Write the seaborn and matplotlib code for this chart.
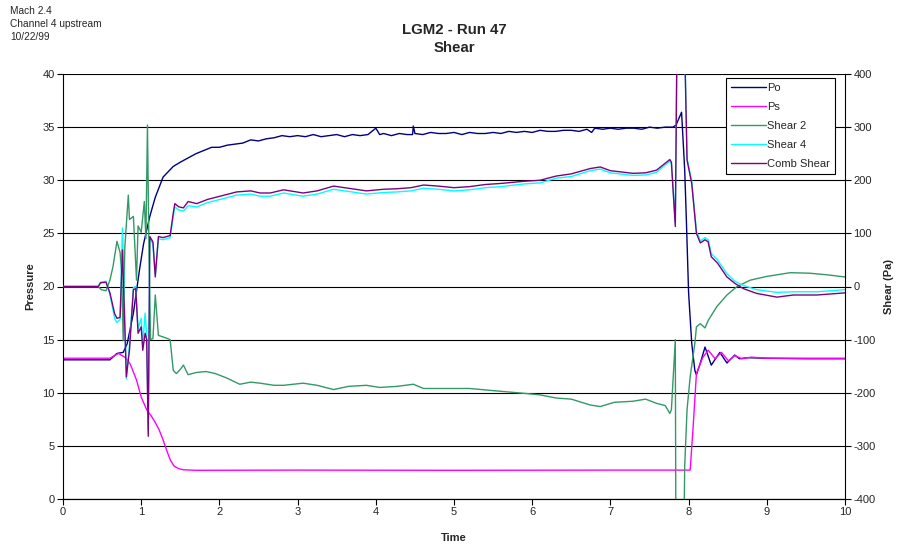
import matplotlib
matplotlib.use("Agg")
import matplotlib.pyplot as plt
import seaborn as sns

# ---- data ----
# pressure (left axis)
t_po = [
    0, 0.30, 0.60, 0.69, 0.77, 0.82, 0.90, 0.94, 0.985, 1.03,
    1.11, 1.18, 1.28, 1.41, 1.50, 1.60, 1.70, 1.80, 1.90, 2.00,
    2.10, 2.20, 2.30, 2.40, 2.50, 2.60, 2.70, 2.80, 2.90, 3.00,
    3.10, 3.20, 3.30, 3.40, 3.50, 3.60, 3.70, 3.80, 3.90, 4.00,
    4.05, 4.10, 4.20, 4.30, 4.40, 4.47, 4.48, 4.50, 4.60, 4.70,
    4.80, 4.90, 5.00, 5.10, 5.20, 5.30, 5.40, 5.50, 5.60, 5.70,
    5.80, 5.90, 6.00, 6.10, 6.20, 6.30, 6.40, 6.50, 6.60, 6.70,
    6.76, 6.80, 6.90, 7.00, 7.10, 7.20, 7.30, 7.40, 7.50, 7.60,
    7.70, 7.80, 7.84, 7.91, 7.95, 7.97, 8.00, 8.04, 8.08, 8.10,
    8.15, 8.21, 8.29, 8.40, 8.49, 8.59, 8.65, 8.75, 9.00, 9.50,
    10.0]
po = [
    13.1, 13.1, 13.1, 13.7, 13.8, 14.6, 17.5, 19.6, 21.9, 24.0,
    26.6, 28.4, 30.3, 31.3, 31.7, 32.1, 32.5, 32.8, 33.1, 33.1,
    33.3, 33.4, 33.5, 33.8, 33.7, 33.9, 34.0, 34.2, 34.1, 34.2,
    34.1, 34.3, 34.1, 34.2, 34.3, 34.1, 34.3, 34.2, 34.3, 34.9,
    34.3, 34.4, 34.2, 34.4, 34.3, 34.3, 35.1, 34.4, 34.3, 34.5,
    34.4, 34.4, 34.5, 34.3, 34.5, 34.4, 34.4, 34.5, 34.4, 34.6,
    34.5, 34.6, 34.5, 34.7, 34.6, 34.6, 34.7, 34.7, 34.6, 34.8,
    34.5, 34.9, 34.8, 34.9, 34.8, 34.9, 34.9, 34.8, 35.0, 34.9,
    35.0, 35.0, 35.2, 36.4, 31.0, 26.6, 19.4, 14.65, 12.1, 11.7,
    12.8, 14.3, 12.6, 13.8, 12.8, 13.55, 13.2, 13.3, 13.25, 13.2,
    13.2]

t_ps = [
    0, 0.60, 0.71, 0.80, 0.86, 0.94, 1.00, 1.07, 1.13, 1.18,
    1.23, 1.28, 1.33, 1.37, 1.42, 1.48, 1.54, 1.70, 3.0, 5.0,
    7.0, 8.02, 8.06, 8.10, 8.18, 8.25, 8.34, 8.42, 8.51, 8.59,
    8.68, 8.80, 9.0, 10.0]
ps = [
    13.25, 13.25, 13.7, 13.3, 12.7, 11.2, 9.6, 8.4, 7.8, 7.2,
    6.5, 5.55, 4.5, 3.7, 3.1, 2.85, 2.75, 2.7, 2.72, 2.7,
    2.72, 2.72, 7.0, 11.8, 13.3, 14.0, 13.2, 13.8, 13.0, 13.5,
    13.2, 13.35, 13.25, 13.25]

# shear (right axis, Pa)
t_sh2 = [
    0, 0.45, 0.49, 0.55, 0.60, 0.64, 0.69, 0.73, 0.75, 0.77,
    0.79, 0.835, 0.85, 0.90, 0.94, 0.96, 1.00, 1.04, 1.06, 1.08,
    1.10, 1.12, 1.15, 1.18, 1.22, 1.30, 1.37, 1.41, 1.45, 1.50,
    1.54, 1.60, 1.70, 1.83, 1.95, 2.09, 2.26, 2.40, 2.52, 2.70,
    2.82, 3.07, 3.25, 3.46, 3.65, 3.88, 4.05, 4.27, 4.48, 4.61,
    4.85, 5.20, 5.50, 5.89, 6.10, 6.31, 6.50, 6.74, 6.87, 7.05,
    7.29, 7.45, 7.59, 7.70, 7.76, 7.78, 7.83, 7.84, 7.93, 7.95,
    7.98, 8.02, 8.08, 8.10, 8.15, 8.21, 8.25, 8.36, 8.49, 8.62,
    8.79, 9.00, 9.30, 9.55, 9.77, 10.0]
shear2 = [
    0, 0, -6, -8, 12, 38, 85, 64, 26, -102,
    72, 172, 126, 132, 12, 114, 102, 160, 90, 304,
    60, -100, -98, -16, -92, -96, -100, -158, -164, -156,
    -148, -166, -162, -160, -164, -172, -184, -180, -182, -186,
    -186, -182, -186, -194, -188, -186, -190, -188, -184, -192,
    -192, -192, -196, -201, -204, -210, -212, -223, -226, -218,
    -216, -212, -220, -224, -239, -232, -100, -600, -600, -339,
    -232, -170, -107, -76, -70, -78, -64, -38, -16, 0,
    12, 19, 26, 25, 22, 18]

t_comb = [
    0, 0.45, 0.48, 0.55, 0.60, 0.66, 0.69, 0.73, 0.76, 0.81,
    0.85, 0.90, 0.93, 0.96, 1.00, 1.02, 1.05, 1.07, 1.09, 1.11,
    1.15, 1.18, 1.22, 1.28, 1.37, 1.41, 1.43, 1.48, 1.54, 1.60,
    1.71, 1.85, 2.01, 2.22, 2.40, 2.52, 2.65, 2.82, 3.07, 3.25,
    3.46, 3.60, 3.88, 4.10, 4.27, 4.45, 4.61, 4.80, 5.00, 5.20,
    5.40, 5.60, 5.89, 6.10, 6.31, 6.50, 6.74, 6.87, 7.00, 7.29,
    7.45, 7.59, 7.76, 7.78, 7.83, 7.86, 7.93, 7.98, 8.04, 8.10,
    8.15, 8.21, 8.25, 8.29, 8.37, 8.49, 8.59, 8.70, 8.87, 9.13,
    9.34, 9.64, 10.0]
shear4 = [
    0, 0, 8, 10, -15, -60, -68, -62, 110, -174,
    -110, -2, 0, -80, -60, -110, -50, -90, -270, 90,
    80, 22, 90, 88, 92, 132, 150, 144, 142, 152,
    150, 158, 164, 172, 174, 170, 170, 176, 170, 174,
    183, 180, 174, 177, 178, 180, 185, 183, 180, 182,
    186, 188, 193, 195, 204, 207, 218, 221, 214, 209,
    210, 215, 236, 232, 120, 600, 600, 242, 198, 104,
    86, 92, 88, 62, 50, 24, 10, 2, -6, -11,
    -10, -10, -6]
comb_shear = [
    0, 0, 7, 8, -12, -51, -60, -58, 69, -170,
    -120, -6, -4, -88, -76, -120, -88, -100, -282, 94,
    84, 18, 94, 92, 96, 138, 156, 150, 148, 160,
    156, 164, 170, 178, 180, 176, 176, 182, 176, 180,
    189, 186, 180, 183, 184, 186, 191, 189, 186, 188,
    192, 194, 198, 200, 208, 212, 222, 225, 218, 213,
    214, 219, 239, 234, 113, 600, 600, 238, 194, 100,
    82, 88, 84, 56, 44, 18, 6, -4, -13, -20,
    -16, -16, -12]

pressure_ticks = list(range(0, 41, 5))
shear_ticks = list(range(-400, 401, 100))
time_ticks = list(range(0, 11))

sns.set_style("white")
plt.rcParams['font.family'] = ['Liberation Sans', 'DejaVu Sans']
plt.rcParams['axes.unicode_minus'] = False

fig = plt.figure(figsize=(8.97, 5.46), dpi=100)
ax = fig.add_axes([63 / 897, 47 / 546, 782 / 897, 425 / 546])
ax2 = ax.twinx()

lw = 1.0
sns.lineplot(x=t_po, y=po, ax=ax, color='#000080', lw=lw, sort=False,
             estimator=None, label='Po', legend=False)
sns.lineplot(x=t_ps, y=ps, ax=ax, color='#FF00FF', lw=lw, sort=False,
             estimator=None, label='Ps', legend=False)
sns.lineplot(x=t_sh2, y=shear2, ax=ax2, color='#339966', lw=lw, sort=False,
             estimator=None, label='Shear 2', legend=False)
sns.lineplot(x=t_comb, y=shear4, ax=ax2, color='#00FFFF', lw=lw, sort=False,
             estimator=None, label='Shear 4', legend=False)
sns.lineplot(x=t_comb, y=comb_shear, ax=ax2, color='#800080', lw=lw, sort=False,
             estimator=None, label='Comb Shear', legend=False)

ax.set_xlim(0, 10)
ax.set_ylim(0, 40)
ax2.set_ylim(-400, 400)
ax.set_xticks(time_ticks)
ax.set_yticks(pressure_ticks)
ax2.set_yticks(shear_ticks)

ax.yaxis.grid(True, color='black', lw=0.8)
ax.set_axisbelow(True)

for a in (ax, ax2):
    a.set_xlabel('')
    a.set_ylabel('')
    a.spines['top'].set_visible(False)
    for s in ('left', 'bottom', 'right'):
        a.spines[s].set_color('black')
        a.spines[s].set_linewidth(0.8)
    a.tick_params(direction='out', length=4, width=0.8, color='black',
                  labelsize=8, pad=2)
ax2.spines['left'].set_visible(False)
ax.spines['right'].set_visible(False)
ax.tick_params(axis='y', left=True, right=False)
ax.tick_params(axis='x', bottom=True)
ax2.tick_params(axis='y', right=True)

h1, l1 = ax.get_legend_handles_labels()
h2, l2 = ax2.get_legend_handles_labels()
leg = ax2.legend(h1 + h2, l1 + l2, loc='upper right',
                 bbox_to_anchor=(0.987, 0.991), fontsize=8, frameon=True,
                 fancybox=False, framealpha=1, edgecolor='black',
                 handlelength=3.1, handletextpad=0.1, labelspacing=0.82,
                 borderpad=0.45, borderaxespad=0)
leg.get_frame().set_linewidth(0.8)

fig.text(454 / 897, 1 - 23 / 546, 'LGM2 - Run 47\nShear', ha='center', va='top',
         fontsize=10.8, fontweight='bold', linespacing=1.35)
fig.text(10 / 897, 1 - 6 / 546, 'Mach 2.4\nChannel 4 upstream\n10/22/99',
         ha='left', va='top', fontsize=7.3, linespacing=1.4)
fig.text(30 / 897, 1 - 286 / 546, 'Pressure', rotation=90, ha='center',
         va='center', fontsize=8, fontweight='bold')
fig.text(889 / 897, 1 - 287 / 546, 'Shear (Pa)', rotation=90, ha='center',
         va='center', fontsize=8, fontweight='bold')
fig.text(454 / 897, 1 - 538 / 546, 'Time', ha='center', va='center',
         fontsize=8, fontweight='bold')

fig.savefig('out.png', dpi=100)
